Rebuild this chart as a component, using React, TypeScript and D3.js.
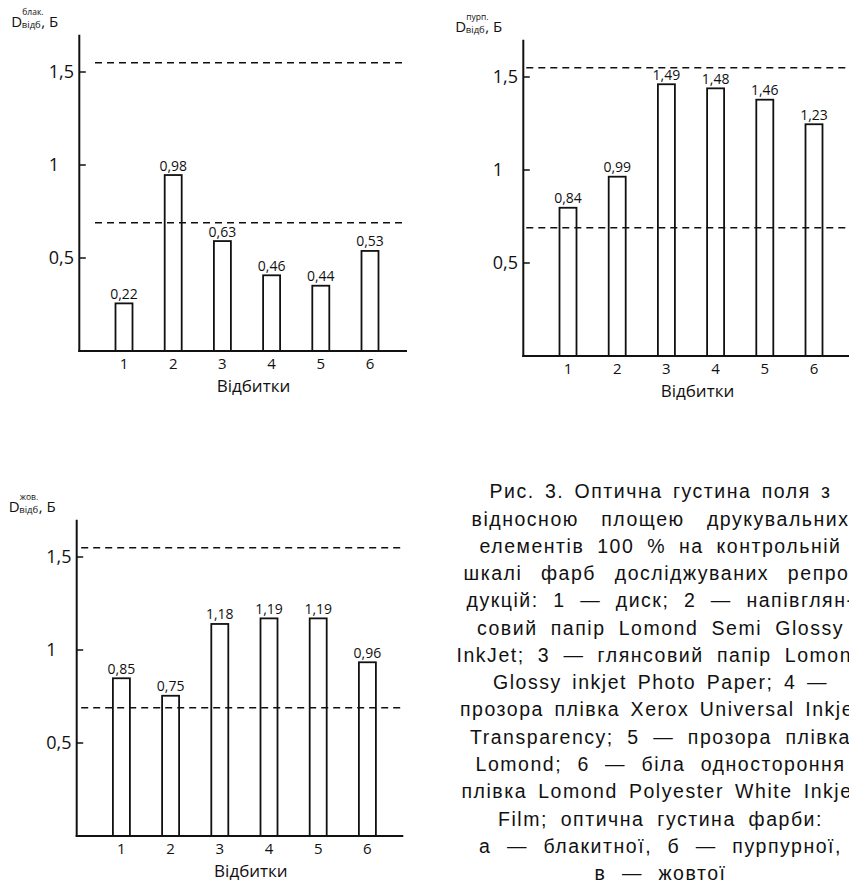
import React, { useLayoutEffect, useRef } from 'react';
import * as d3 from 'd3';

// ---------- data ----------
const categories = ['1', '2', '3', '4', '5', '6'];

const cyanValues = [0.256, 0.946, 0.591, 0.407, 0.351, 0.538];
const cyanLabels = ['0,22', '0,98', '0,63', '0,46', '0,44', '0,53'];

const magentaValues = [0.797, 0.964, 1.461, 1.439, 1.378, 1.246];
const magentaLabels = ['0,84', '0,99', '1,49', '1,48', '1,46', '1,23'];

const yellowValues = [0.848, 0.754, 1.14, 1.17, 1.17, 0.934];
const yellowLabels = ['0,85', '0,75', '1,18', '1,19', '1,19', '0,96'];

const yTicks = [0.5, 1, 1.5];
const yTickLabels = ['0,5', '1', '1,5'];
const referenceLines = [0.69, 1.55];
const yMax = 1.7;

const xTitle = 'Відбитки';
const yTitleMain = 'D';
const yTitleSub = 'відб';
const yTitleUnit = ', Б';

const captionLines = [
  'Рис. 3. Оптична густина поля з',
  'відносною площею друкувальних',
  'елементів 100 % на контрольній',
  'шкалі фарб досліджуваних репро-',
  'дукцій: 1 — диск; 2 — напівглян-',
  'совий папір Lomond Semi Glossy',
  'InkJet; 3 — глянсовий папір Lomond',
  'Glossy inkjet Photo Paper; 4 —',
  'прозора плівка Xerox Universal Inkjet',
  'Transparency; 5 — прозора плівка',
  'Lomond; 6 — біла одностороння',
  'плівка Lomond Polyester White Inkjet',
  'Film; оптична густина фарби:',
  'а — блакитної, б — пурпурної,',
  'в — жовтої',
];
const captionWidths = [342, 378, 362, 394, 388, 367, 408, 335, 401, 381, 370, 398, 325, 363, 132];

const FONT = '"Open Sans", "Noto Sans", sans-serif';

type PanelProps = {
  axisX: number;
  zeroY: number;
  right: number;
  dashStart: number;
  sup: string;
  values: number[];
  labels: string[];
};

function Panel({ axisX, zeroY, right, dashStart, sup, values, labels }: PanelProps) {
  const unit = 186;
  const y = d3.scaleLinear().domain([0, yMax]).range([zeroY, zeroY - unit * yMax]);
  const x = d3.scalePoint<string>().domain(categories).range([axisX + 44.7, axisX + 290.7]);
  const barW = 17;
  const topY = y(yMax);
  const midX = (x(categories[0])! + x(categories[categories.length - 1])!) / 2 + 6.5;
  const titleX = axisX - 68;
  const titleY = topY - 8.3;

  return (
    <g fontFamily={FONT} fill="#111">
      {/* title */}
      <text x={titleX} y={titleY} fontSize={15}>{yTitleMain}</text>
      <text x={titleX + 11} y={titleY - 11.5} fontSize={8.5}>{sup}</text>
      <text x={titleX + 10.5} y={titleY + 1.3} fontSize={9.5}>{yTitleSub}</text>
      <text x={titleX + 30} y={titleY} fontSize={15}>{yTitleUnit}</text>

      {/* reference dashed lines */}
      {referenceLines.map((r) => (
        <line
          key={r}
          x1={axisX + dashStart}
          x2={right}
          y1={y(r)}
          y2={y(r)}
          stroke="#111"
          strokeWidth={1.5}
          strokeDasharray="7 5"
        />
      ))}

      {/* bars */}
      {categories.map((c, i) => (
        <rect
          key={c}
          x={x(c)! - barW / 2}
          y={y(values[i])}
          width={barW}
          height={y(0) - y(values[i])}
          fill="none"
          stroke="#111"
          strokeWidth={1.8}
        />
      ))}
      {categories.map((c, i) => (
        <text key={c} x={x(c)!} y={y(values[i]) - 4.5} fontSize={14} textAnchor="middle">
          {labels[i]}
        </text>
      ))}

      {/* axes */}
      <line x1={axisX} x2={axisX} y1={topY} y2={zeroY + 1} stroke="#111" strokeWidth={2} />
      <line x1={axisX - 1} x2={right} y1={zeroY} y2={zeroY} stroke="#111" strokeWidth={2} />
      {yTicks.map((t, i) => (
        <g key={t}>
          <line x1={axisX} x2={axisX + 6.5} y1={y(t)} y2={y(t)} stroke="#111" strokeWidth={1.5} />
          <text x={axisX - 30.5} y={y(t)} dy="0.36em" fontSize={18}>
            {yTickLabels[i]}
          </text>
        </g>
      ))}
      {categories.map((c) => (
        <text key={c} x={x(c)!} y={zeroY + 17.5} fontSize={15} textAnchor="middle">
          {c}
        </text>
      ))}
      <text x={midX} y={zeroY + 41} fontSize={17} textAnchor="middle">
        {xTitle}
      </text>
    </g>
  );
}

function Caption() {
  const refs = useRef<(SVGTextElement | null)[]>([]);
  useLayoutEffect(() => {
    const els = refs.current;
    const info = els.map((el, i) => {
      if (!el) return null;
      el.setAttribute('word-spacing', '0');
      el.setAttribute('letter-spacing', '0');
      const w0 = el.getComputedTextLength();
      const n = captionLines[i].length;
      return { w0, n };
    });
    // common letter-spacing: smallest needed so that no line needs negative word-spacing
    let ls = Infinity;
    info.forEach((d, i) => {
      if (!d || captionLines[i].length < 15) return;
      ls = Math.min(ls, (captionWidths[i] - d.w0) / d.n);
    });
    if (!isFinite(ls) || ls < 0) ls = 0;
    ls = ls * 0.8;
    els.forEach((el, i) => {
      if (!el) return;
      el.setAttribute('letter-spacing', String(ls));
      const w1 = el.getComputedTextLength();
      const spaces = (captionLines[i].match(/ /g) || []).length;
      if (spaces > 0) {
        el.setAttribute('word-spacing', String((captionWidths[i] - w1) / spaces));
      }
    });
  }, []);
  const cx = 660.5;
  const y0 = 498.3;
  const lh = 27.27;
  return (
    <g fontFamily='"Liberation Sans", Arial, sans-serif' fontSize={19.5} fill="#111">
      {captionLines.map((l, i) => (
        <text
          key={i}
          ref={(el) => {
            refs.current[i] = el;
          }}
          x={cx}
          y={y0 + i * lh}
          textAnchor="middle"
        >
          {l}
        </text>
      ))}
    </g>
  );
}

export default function App() {
  return (
    <svg
      width={849}
      height={886}
      viewBox="0 0 849 886"
      style={{ position: 'absolute', left: 0, top: 0, background: '#fff' }}
    >
      <rect width={849} height={886} fill="#fff" />
      <Panel axisX={79.3} zeroY={351} right={407} dashStart={15.7} sup="блак." values={cyanValues} labels={cyanLabels} />
      <Panel axisX={523.3} zeroY={356} right={849} dashStart={3} sup="пурп." values={magentaValues} labels={magentaLabels} />
      <Panel axisX={76.7} zeroY={836} right={403.3} dashStart={4.5} sup="жов." values={yellowValues} labels={yellowLabels} />
      <Caption />
    </svg>
  );
}
